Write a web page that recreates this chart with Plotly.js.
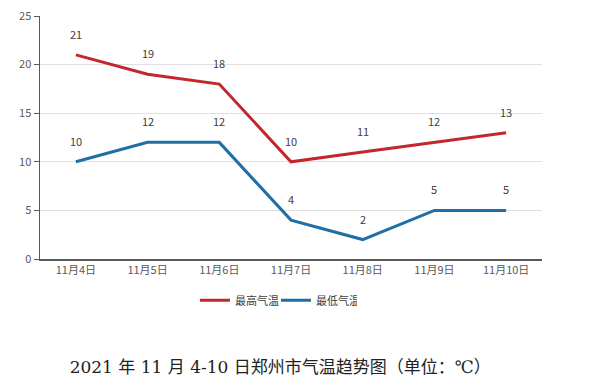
<!DOCTYPE html>
<html><head><meta charset="utf-8">
<script src="https://cdn.plot.ly/plotly-3.0.1.min.js"></script>
<style>body{margin:0;background:#fff}#c{width:600px;height:392px}</style>
</head><body><div id="c"></div>
<script>
var categories = ['11月4日','11月5日','11月6日','11月7日','11月8日','11月9日','11月10日'];
var highTemp = [21,19,18,10,11,12,13];
var lowTemp = [10,12,12,4,2,5,5];
var seriesNames = ['最高气温','最低气温'];
var titleText = '2021 年 11 月 4-10 日郑州市气温趋势图（单位：℃）';

var red = '#c1272d', blue = '#1f6ea6';
var font = '"Noto Sans CJK SC", "Noto Sans", sans-serif';
var ann = [];
function addLabels(vals){
  vals.forEach(function(v,i){
    ann.push({x:categories[i], y:v, text:String(v), showarrow:false, yshift:21,
      font:{family:font,size:11,color:'#404040'}});
  });
}
addLabels(highTemp); addLabels(lowTemp);

var traces = [
  {x:categories, y:highTemp, name:seriesNames[0], type:'scatter', mode:'lines', line:{color:red,width:3}},
  {x:categories, y:lowTemp, name:seriesNames[1], type:'scatter', mode:'lines', line:{color:blue,width:3}}
];
var layout = {
  width:600, height:392,
  margin:{l:40, r:58, t:16, b:133},
  paper_bgcolor:'#fff', plot_bgcolor:'#fff',
  showlegend:true,
  legend:{orientation:'h', x:0.47, xanchor:'center', y:-0.17, yanchor:'middle',
    font:{family:font,size:11,color:'#404040'}, itemwidth:30, entrywidth:36, entrywidthmode:'pixels', tracegroupgap:0},
  xaxis:{type:'category', range:[-0.5,6.5], showgrid:false, showline:true, linecolor:'#595959', linewidth:1.5,
    ticks:'', tickfont:{family:font,size:11,color:'#595959'}, fixedrange:true},
  yaxis:{range:[0,25], dtick:5, showgrid:true, gridcolor:'#e0e0e0', gridwidth:1, zeroline:false,
    showline:true, linecolor:'#595959', linewidth:1.5, ticks:'outside', ticklen:5, tickcolor:'#595959',
    tickfont:{family:font,size:11,color:'#595959'}},
  annotations:ann,
  title:{text:titleText, xref:'container', yref:'container', x:0.467, xanchor:'center', y:0.064, yanchor:'middle',
    font:{family:'"DejaVu Serif", "Noto Sans CJK SC", serif', size:17, color:'#222'}}
};
Plotly.newPlot('c', traces, layout, {staticPlot:true});
</script></body></html>
